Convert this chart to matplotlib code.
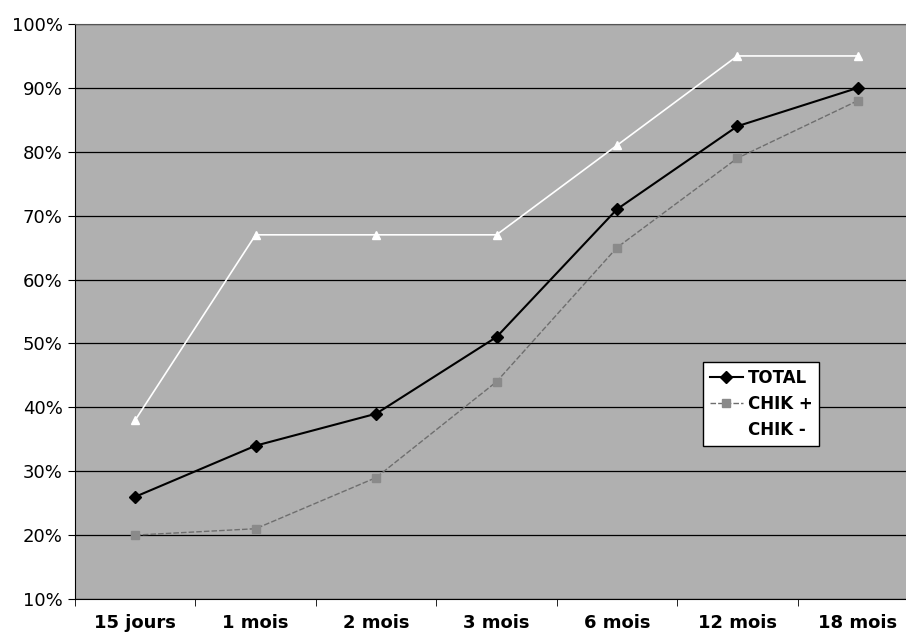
import numpy as np
import matplotlib.pyplot as plt
from matplotlib.ticker import FixedLocator, PercentFormatter

categories = ["15 jours", "1 mois", "2 mois", "3 mois", "6 mois", "12 mois", "18 mois"]
total      = [26, 34, 39, 51, 71, 84, 90]
chik_plus  = [20, 21, 29, 44, 65, 79, 88]
chik_minus = [38, 67, 67, 67, 81, 95, 95]

fig = plt.figure(figsize=(9.06, 6.39), dpi=100)
ax = fig.add_axes([75/906, 1 - 599/639, 843/906, 575/639])
ax.set_facecolor("#b0b0b0")

x = np.arange(len(categories))
ax.plot(x, chik_minus, color="white", lw=1.2, marker="^", ms=6, mfc="white", mec="white", label="CHIK -", zorder=3)
ax.plot(x, chik_plus, color="#6e6e6e", lw=1.0, ls=(0, (4, 1.5)), marker="s", ms=6,
        mfc="#8a8a8a", mec="#8a8a8a", label="CHIK +", zorder=4)
ax.plot(x, total, color="black", lw=1.5, marker="D", ms=6, mfc="black", mec="black", label="TOTAL", zorder=5)

ax.set_xlim(-0.5, len(categories) - 0.5)
ax.set_ylim(10, 100)
ax.set_yticks(np.arange(10, 101, 10))
ax.yaxis.set_major_formatter(PercentFormatter(decimals=0))
ax.yaxis.grid(True, color="black", lw=0.9)
ax.set_axisbelow(True)

ax.set_xticks(x)
ax.set_xticklabels(categories, fontsize=13, fontweight="bold",
                   family=["Liberation Sans Narrow", "DejaVu Sans"])
ax.xaxis.set_minor_locator(FixedLocator(np.arange(-0.5, len(categories), 1.0)))
ax.tick_params(axis="x", which="major", length=0, pad=11)
ax.tick_params(axis="x", which="minor", length=5, direction="out", color="black")
ax.tick_params(axis="y", length=5, direction="out", labelsize=13, pad=4)

ax.spines["right"].set_visible(False)
ax.spines["top"].set_color("#555555")
ax.spines["left"].set_color("black")
ax.spines["bottom"].set_color("black")

handles, labels = ax.get_legend_handles_labels()
order = [2, 1, 0]
leg = ax.legend([handles[i] for i in order], [labels[i] for i in order],
                loc="upper left", bbox_to_anchor=((703-75)/843, 1 - (362-24)/575),
                frameon=True, fancybox=False, edgecolor="black", facecolor="white",
                framealpha=1, prop={"weight": "bold", "size": 12},
                handlelength=2.0, handletextpad=0.3, borderpad=0.4, labelspacing=0.5,
                borderaxespad=0)
leg.get_frame().set_linewidth(1.0)

fig.savefig("out.png", dpi=100)
